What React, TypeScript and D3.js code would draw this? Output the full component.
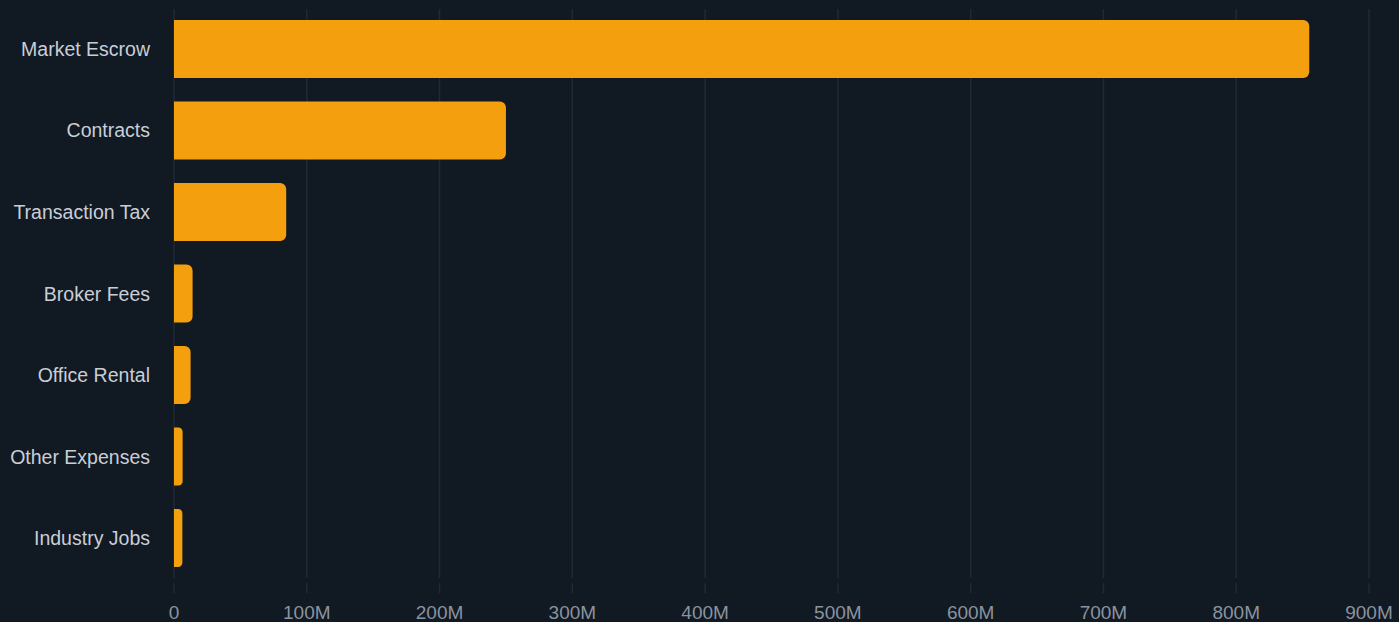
import React from "react";
import * as d3 from "d3";

const categories = [
  "Market Escrow",
  "Contracts",
  "Transaction Tax",
  "Broker Fees",
  "Office Rental",
  "Other Expenses",
  "Industry Jobs",
];
const values = [855e6, 250e6, 84.5e6, 14e6, 12.5e6, 6.5e6, 6.3e6];
const tickValues = [0, 100e6, 200e6, 300e6, 400e6, 500e6, 600e6, 700e6, 800e6, 900e6];

const W = 1399;
const H = 622;
const left = 174;
const right = 1369;
const top = 9;
const bottom = 578;

function barPath(x0: number, x1: number, y0: number, h: number, r: number) {
  const w = x1 - x0;
  const rr = Math.min(r, w / 2, h / 2);
  return `M${x0},${y0}H${x1 - rr}A${rr},${rr} 0 0 1 ${x1},${y0 + rr}V${y0 + h - rr}A${rr},${rr} 0 0 1 ${x1 - rr},${y0 + h}H${x0}Z`;
}

export default function App() {
  const x = d3.scaleLinear().domain([0, 900e6]).range([left, right]);
  const y = d3
    .scaleBand<string>()
    .domain(categories)
    .range([top, bottom])
    .paddingInner(0.29)
    .paddingOuter(0.135);
  const fmt = (v: number) => (v === 0 ? "0" : `${v / 1e6}M`);
  const font = "'Liberation Sans', Arial, sans-serif";
  return (
    <div style={{ position: "fixed", left: 0, top: 0, width: W, height: H, background: "#111923" }}>
      <svg width={W} height={H} style={{ display: "block" }}>
        <rect x={0} y={0} width={W} height={H} fill="#111923" />
        {tickValues.map((t) => (
          <g key={t}>
            <line x1={x(t)} x2={x(t)} y1={top} y2={bottom} stroke="#1f2a38" strokeWidth={1.5} />
            <line x1={x(t)} x2={x(t)} y1={583} y2={593} stroke="#1f2a38" strokeWidth={1.5} />
            <text
              x={x(t)}
              y={619}
              textAnchor="middle"
              fill="#8b939e"
              fontFamily={font}
              fontSize={19}
            >
              {fmt(t)}
            </text>
          </g>
        ))}
        {categories.map((c, i) => (
          <g key={c}>
            <path
              d={barPath(x(0), x(values[i]), y(c)!, y.bandwidth(), 6)}
              fill="#f39f0e"
            />
            <text
              x={150}
              y={y(c)! + y.bandwidth() / 2}
              dy="0.36em"
              textAnchor="end"
              fill="#c9ced6"
              fontFamily={font}
              fontSize={19.5}
            >
              {c}
            </text>
          </g>
        ))}
      </svg>
    </div>
  );
}
